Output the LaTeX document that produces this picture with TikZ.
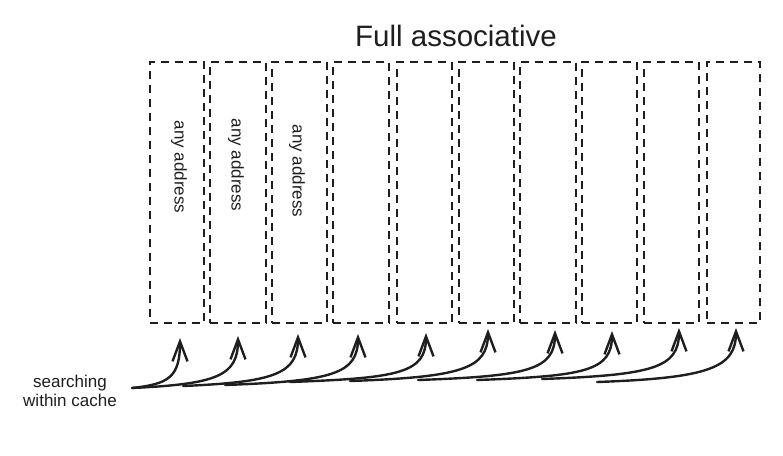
\documentclass[tikz,border=0pt]{standalone}
\usepackage{fontspec}
\setmainfont{Liberation Sans}
\usetikzlibrary{arrows.meta,calc}
\definecolor{ink}{HTML}{1E1E1E}
\begin{document}
\begin{tikzpicture}[x=1pt,y=-1pt,
  cell/.style={draw=ink,line width=1.9pt,dash pattern=on 8pt off 6pt,
    minimum height=261pt,inner sep=0pt},
  addr/.style={rotate=-90,font=\fontsize{17}{19}\selectfont,text=ink,inner sep=0pt},
  arr/.style={draw=ink,line width=2.4pt,line cap=round,
    -{Straight Barb[length=20pt,width=15pt,line width=2.4pt]}}]
\useasboundingbox (0,0) rectangle (783,455);
% title
\node[font=\fontsize{29.5}{34}\selectfont,anchor=base,text=ink] (title) at (456,46) {Full associative};
% boxes
\foreach \i/\cx/\w in {1/177/54,2/238/56,3/299.5/55,4/361/56,5/424.5/55,
                       6/486.5/55,7/548/56,8/609.5/55,9/671.5/55,10/733.5/53}
  {\node[cell,minimum width=\w pt] (b\i) at (\cx,192.5) {};}
% labels in boxes
\node[addr] (a1) at (179,167) {any address};
\node[addr] (a2) at (236,165) {any address};
\node[addr] (a3) at (297,171) {any address};
% source label
\node[align=center,font=\fontsize{17}{19}\selectfont,text=ink,inner sep=0pt] (src) at (70,391) {searching\\within cache};
% arrows
\foreach \i/\tx/\ty/\dx/\dy/\ca in {1/132/388/3/14/36,2/132/388/0/12/85,3/183/386/-1.5/10/92,
   4/225/385/-3/10/108,5/290/382/1.5/9/110,6/350/381/1.5/5/112,7/418/380/7/6/111,
   8/477/380/2.5/7/109,9/542/379/7.5/4/111,10/597/382/2.5/4/112}
{
  \coordinate (t\i) at (\tx,\ty);
  \coordinate (h\i) at ($(b\i.south)+(\dx,\dy)$);
  \draw[arr] (t\i) .. controls +(\ca,-4) and +(0,40) .. (h\i);
}
\end{tikzpicture}
\end{document}
